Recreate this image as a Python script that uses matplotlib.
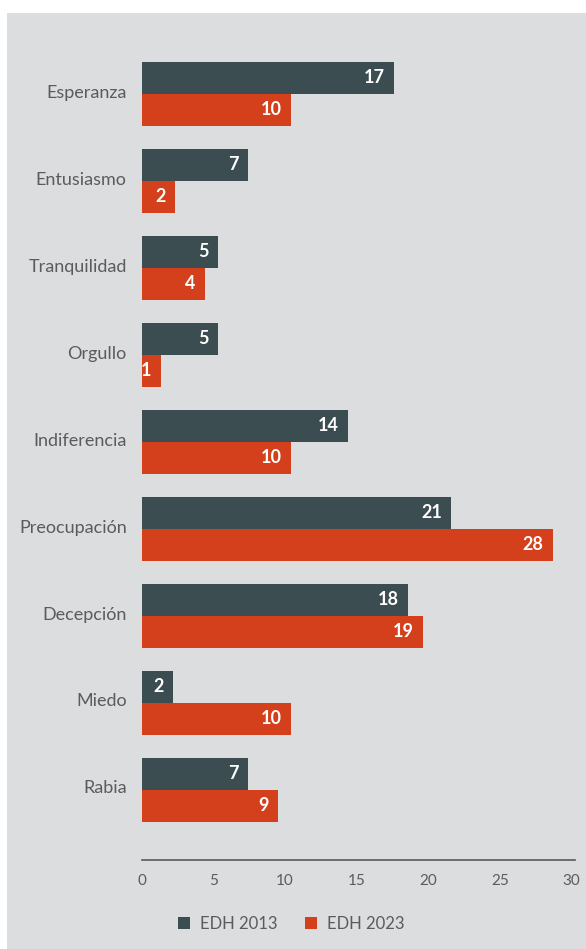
import numpy as np
import matplotlib.pyplot as plt
from matplotlib.patches import Rectangle, Patch

# Data
categories = ['Esperanza', 'Entusiasmo', 'Tranquilidad', 'Orgullo', 'Indiferencia',
              'Preocupación', 'Decepción', 'Miedo', 'Rabia']
edh_2013 = [17.6, 7.4, 5.3, 5.3, 14.4, 21.6, 18.6, 2.2, 7.4]
edh_2023 = [10.4, 2.3, 4.4, 1.3, 10.4, 28.7, 19.6, 10.4, 9.5]
labels_2013 = ['17', '7', '5', '5', '14', '21', '18', '2', '7']
labels_2023 = ['10', '2', '4', '1', '10', '28', '19', '10', '9']
series_names = ['EDH 2013', 'EDH 2023']
xticks = [0, 5, 10, 15, 20, 25, 30]

dark = '#3c4d52'
red = '#d4401b'
bg = '#dcdddf'
txt = '#5b5b5b'

plt.rcParams['font.family'] = ['Lato', 'DejaVu Sans']

fig = plt.figure(figsize=(5.86, 9.49), dpi=100, facecolor='white')
# gray panel behind everything
fig.patches.append(Rectangle((7 / 586, 0), 1, 1 - 13 / 949, transform=fig.transFigure,
                             facecolor=bg, edgecolor='none', zorder=-5))

ax = fig.add_axes([142 / 586, 0.0938, (575 - 142) / 586, 0.841])
ax.set_facecolor('none')

y = np.arange(len(categories))
h = 0.368
ax.barh(y - h / 2, edh_2013, height=h, color=dark, label=series_names[0])
ax.barh(y + h / 2, edh_2023, height=h, color=red, label=series_names[1])

for yi, v, lab in zip(y, edh_2013, labels_2013):
    ax.text(v - 0.65, yi - h / 2, lab, ha='right', va='center', color='white',
            fontsize=13, fontweight='bold')
for yi, v, lab in zip(y, edh_2023, labels_2023):
    ax.text(v - 0.65, yi + h / 2, lab, ha='right', va='center', color='white',
            fontsize=13, fontweight='bold')

ax.set_xlim(0, 30.25)
ax.set_ylim(8.81, -h)
ax.set_yticks(y - 0.03)
ax.set_yticklabels(categories, fontsize=13, color=txt)
ax.set_xticks(xticks)
ax.set_xticklabels([str(t) for t in xticks], fontsize=11, color=txt)
ax.tick_params(axis='both', length=0)
ax.tick_params(axis='y', pad=11)
ax.tick_params(axis='x', pad=10)

for s in ['top', 'right', 'left']:
    ax.spines[s].set_visible(False)
ax.spines['bottom'].set_color('#555a58')
ax.spines['bottom'].set_linewidth(1.2)

handles = [Patch(facecolor=dark), Patch(facecolor=red)]
fig.legend(handles, series_names, loc='center', bbox_to_anchor=(0.497, 1 - 924 / 949),
           ncol=2, frameon=False, fontsize=12, labelcolor=txt,
           handlelength=0.75, handleheight=0.75, handletextpad=0.6, columnspacing=1.6)

fig.savefig('out.png', dpi=100, facecolor='white')
